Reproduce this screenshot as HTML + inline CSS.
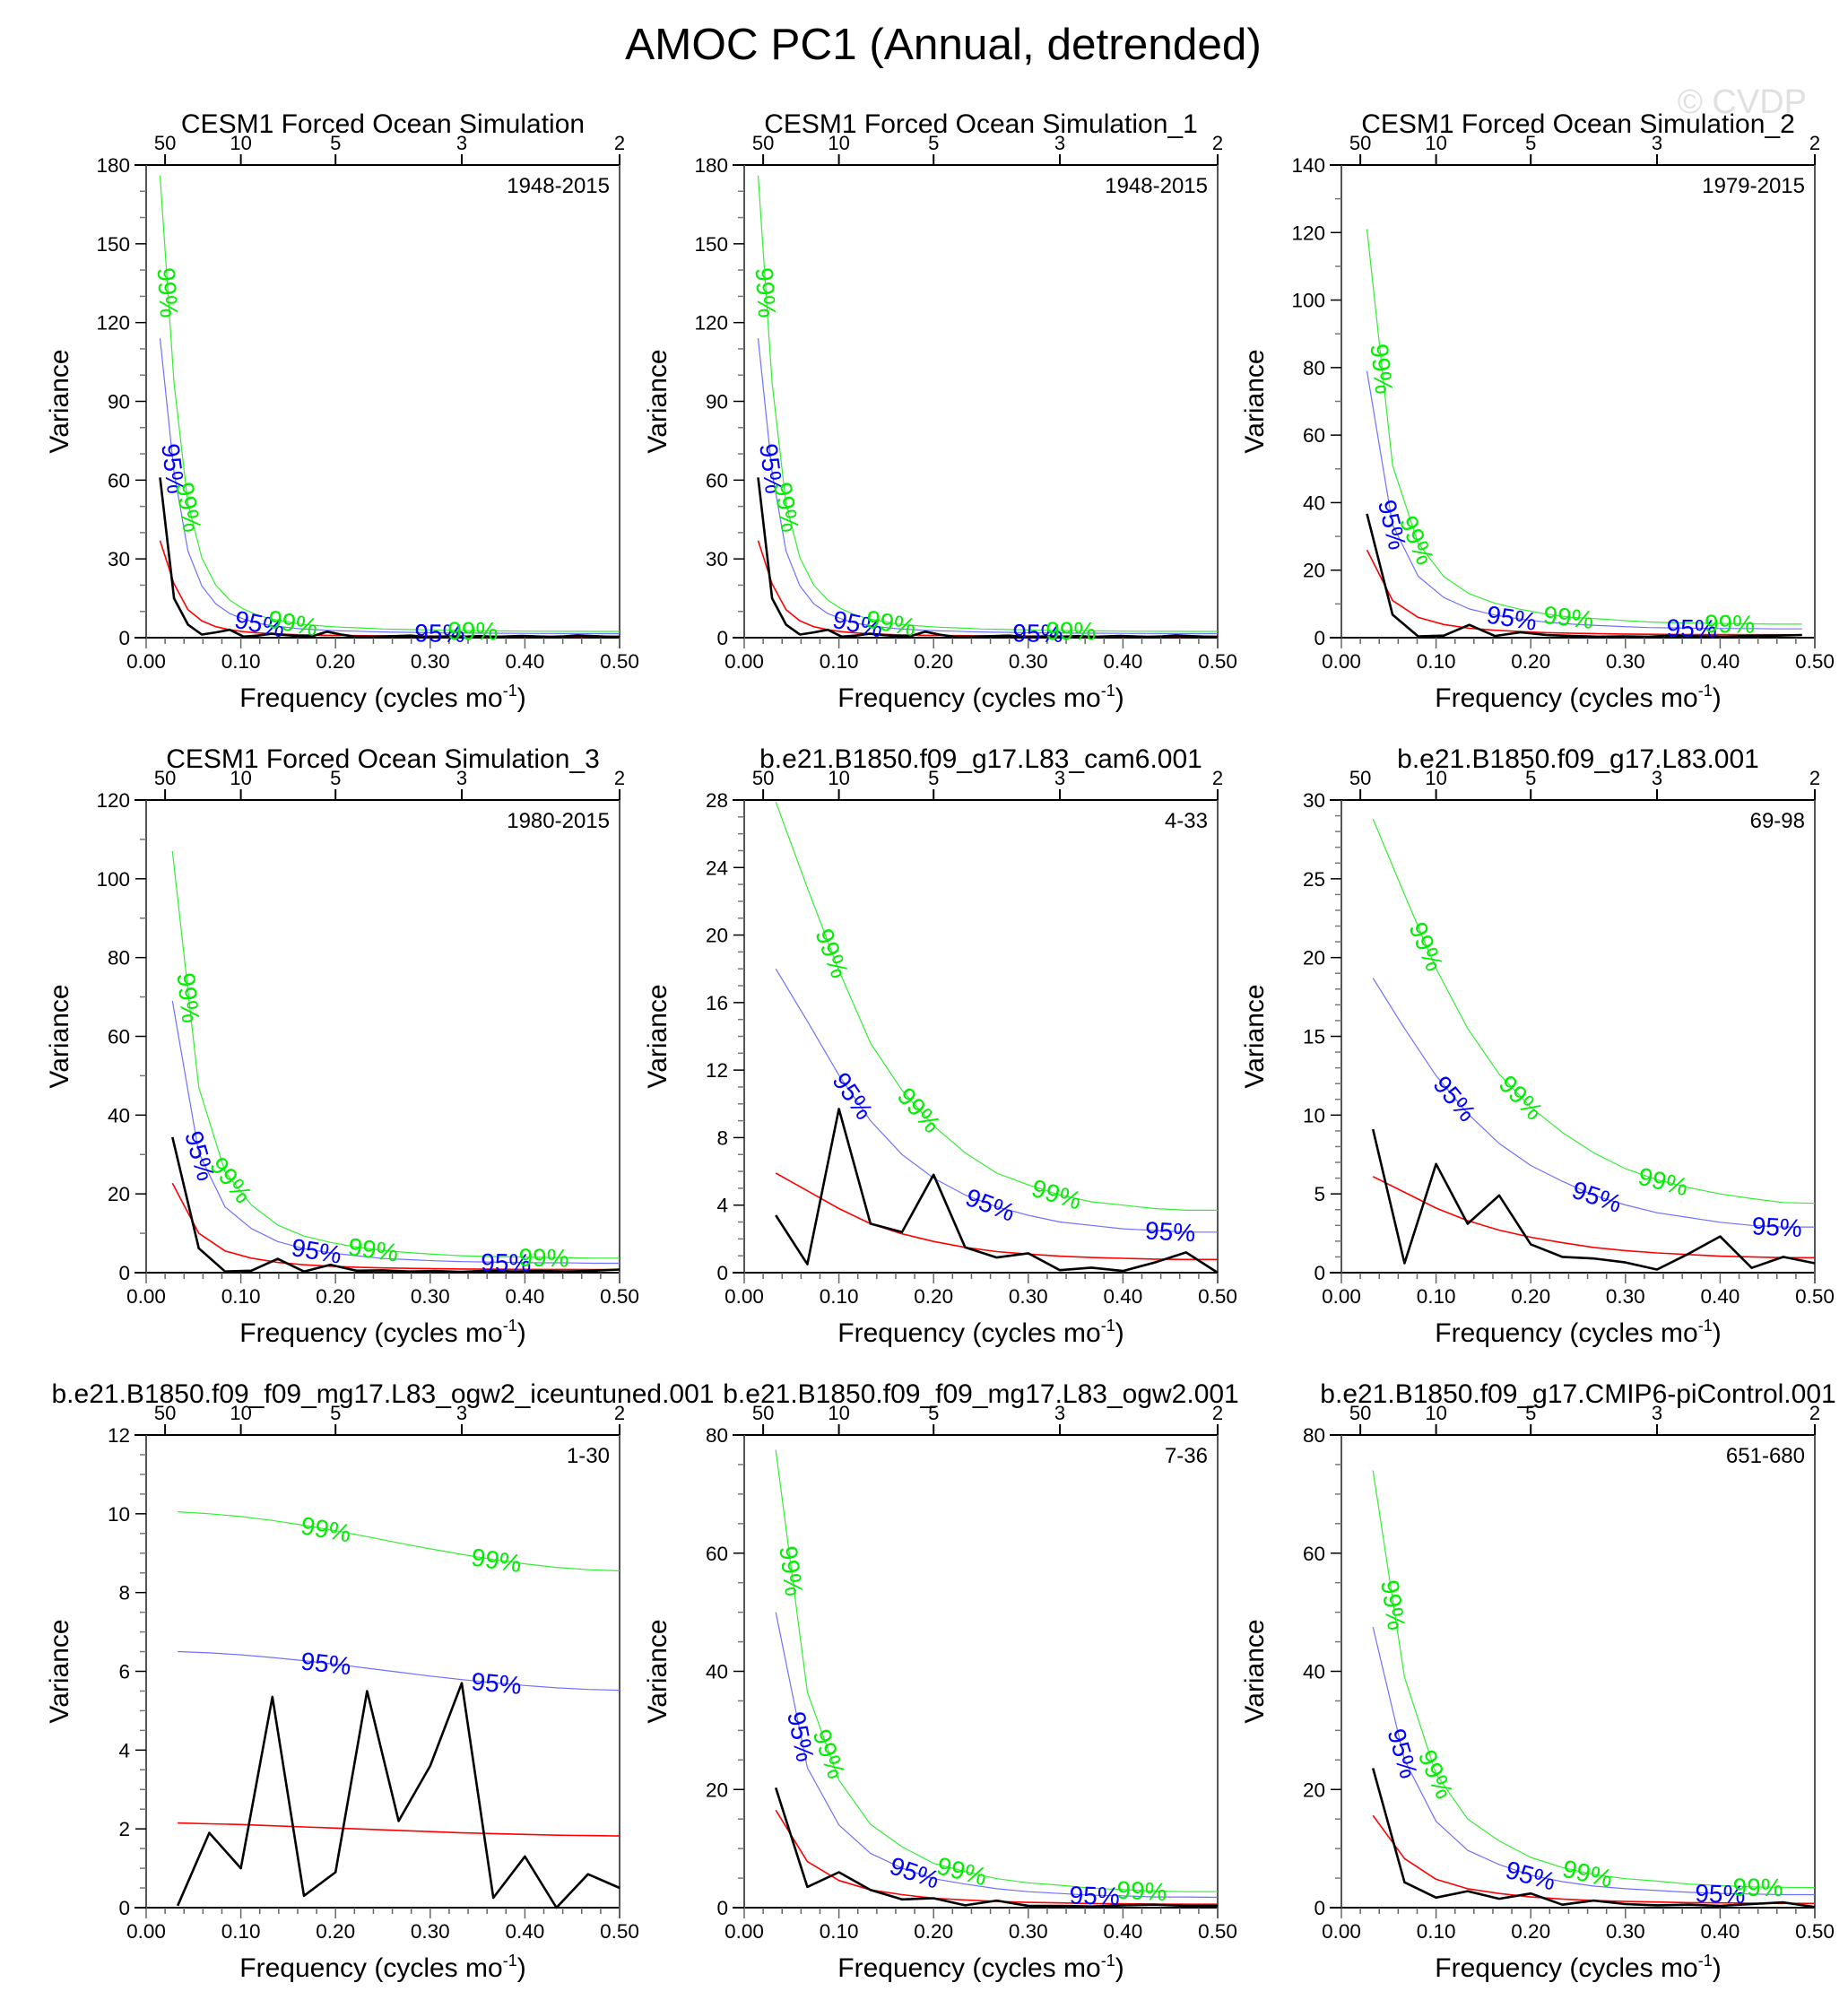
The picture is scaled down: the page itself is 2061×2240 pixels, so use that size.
<!DOCTYPE html>
<html><head><meta charset="utf-8">
<style>
html,body{margin:0;padding:0;background:#fff;}
svg{display:block;font-family:"Liberation Sans",Arial,sans-serif;}
</style></head>
<body>
<svg id="chart" width="2061" height="2240" viewBox="0 0 2061 2240" xmlns="http://www.w3.org/2000/svg">
<text x="1052" y="66" font-size="49.5" text-anchor="middle">AMOC PC1 (Annual, detrended)</text>
<text x="2015" y="126" font-size="38" text-anchor="end" fill="#e0e0e0">© CVDP</text>
</svg>
<script>
// ---------- data ----------
const periodTicks = [50, 10, 5, 3, 2];
const xTickLabels = ["0.00","0.10","0.20","0.30","0.40","0.50"];

const p1Black = [61,15,5,1.2,2,3,0.4,0.8,1.5,1,0.6,0.7,2.3,1.2,0.4,0.3,0.5,0.6,0.8,0.3,0.4,0.5,0.4,0.6,0.3,0.5,0.7,0.5,0.3,0.5,0.9,0.6,0.4,0.3];
const p1Red = [37,20.5,10.7,6.4,4.2,3.0,2.3,1.8,1.5,1.3,1.1,1.0,0.9,0.85,0.8,0.75,0.7,0.68,0.65,0.63,0.6,0.58,0.57,0.56,0.55,0.54,0.53,0.52,0.52,0.51,0.51,0.5,0.5,0.5];
const p1C95 = [114,63,33,19.7,12.9,9.2,7.1,5.5,4.6,4.0,3.4,3.1,2.8,2.6,2.5,2.3,2.2,2.1,2.0,1.9,1.85,1.8,1.75,1.72,1.7,1.66,1.63,1.6,1.6,1.57,1.57,1.54,1.54,1.54];
const p1C99 = [176,97,51,30.4,20,14.3,10.9,8.6,7.1,6.2,5.2,4.75,4.3,4.0,3.8,3.6,3.3,3.2,3.1,3.0,2.85,2.75,2.7,2.66,2.6,2.56,2.5,2.47,2.47,2.42,2.42,2.38,2.38,2.38];

const p3Black = [36.7,6.8,0.4,0.6,3.8,0.5,1.6,0.8,0.5,0.3,0.4,0.3,0.6,0.4,0.3,0.5,0.6,0.8];
const p3Red = [26,11,6.0,3.9,2.8,2.2,1.8,1.5,1.3,1.2,1.1,1.0,0.95,0.92,0.9,0.88,0.87,0.86];
const p3C95 = [79,33.4,18.2,11.9,8.5,6.7,5.5,4.6,4.0,3.6,3.3,3.0,2.9,2.8,2.7,2.7,2.6,2.6];
const p3C99 = [121,51,28,18.1,13,10.2,8.4,7.0,6.0,5.6,5.1,4.65,4.4,4.3,4.2,4.1,4.0,4.0];

const p4Black = [34.4,6.2,0.3,0.5,3.5,0.3,2.0,0.5,0.6,0.3,0.4,0.2,0.5,0.3,0.4,0.3,0.5,0.8];
const p4Red = [22.7,10,5.5,3.7,2.6,2.0,1.65,1.4,1.2,1.1,1.0,0.93,0.88,0.85,0.83,0.81,0.8,0.8];
const p4C95 = [69,30.4,16.7,11.2,7.9,6.1,5.0,4.3,3.6,3.3,3.0,2.8,2.7,2.6,2.5,2.5,2.4,2.4];
const p4C99 = [107,47,25.6,17.2,12.1,9.3,7.7,6.5,5.6,5.1,4.65,4.3,4.1,4.0,3.9,3.8,3.7,3.7];

const p5Black = [3.4,0.5,9.7,2.9,2.4,5.8,1.5,0.9,1.15,0.15,0.3,0.1,0.6,1.2,0];
const p5Red = [5.9,4.85,3.8,2.9,2.3,1.85,1.5,1.25,1.1,0.98,0.9,0.85,0.8,0.78,0.78];
const p5C95 = [18.0,14.9,11.7,9.0,7.0,5.6,4.6,3.9,3.4,3.0,2.8,2.6,2.5,2.4,2.4];
const p5C99 = [27.9,22.8,17.9,13.6,10.8,8.7,7.1,5.9,5.2,4.6,4.2,4.0,3.8,3.7,3.7];

const p6Black = [9.1,0.6,6.9,3.1,4.9,1.8,1.0,0.9,0.65,0.2,1.2,2.3,0.3,1.0,0.6];
const p6Red = [6.1,5.1,4.1,3.3,2.7,2.25,1.9,1.6,1.4,1.25,1.15,1.05,1.0,0.95,0.95];
const p6C95 = [18.7,15.5,12.5,10.1,8.2,6.8,5.8,4.9,4.3,3.8,3.5,3.2,3.0,2.9,2.9];
const p6C99 = [28.8,24,19.3,15.5,12.6,10.5,8.9,7.6,6.6,5.9,5.4,5.0,4.7,4.45,4.4];

const p7Black = [0.05,1.9,1.0,5.35,0.3,0.9,5.5,2.2,3.6,5.7,0.25,1.3,0,0.85,0.5];
const p7Red = [2.15,2.13,2.11,2.08,2.05,2.02,1.99,1.96,1.93,1.9,1.88,1.86,1.84,1.83,1.82];
const p7C95 = [6.5,6.47,6.42,6.35,6.27,6.18,6.08,5.98,5.88,5.79,5.71,5.64,5.58,5.54,5.52];
const p7C99 = [10.05,10.0,9.93,9.83,9.71,9.57,9.42,9.26,9.11,8.97,8.84,8.73,8.64,8.58,8.55];

const p8Black = [20.3,3.5,6.0,3.0,1.4,1.6,0.4,1.2,0.3,0.3,0.2,0.4,0.5,0.3,0.3];
const p8Red = [16.5,7.8,4.6,3.0,2.2,1.6,1.3,1.05,0.9,0.8,0.7,0.65,0.6,0.58,0.57];
const p8C95 = [50,23.7,14,9.2,6.7,4.9,4.0,3.2,2.7,2.4,2.1,2.0,1.8,1.8,1.75];
const p8C99 = [77.5,36.5,21.6,14.1,10.3,7.5,6.1,4.9,4.2,3.8,3.3,3.05,2.8,2.7,2.7];

const p9Black = [23.6,4.3,1.7,2.8,1.5,2.4,0.5,1.2,0.6,0.4,0.5,0.3,0.6,0.9,0.1];
const p9Red = [15.6,8.3,4.8,3.2,2.4,1.8,1.45,1.2,1.05,0.95,0.85,0.8,0.75,0.73,0.72];
const p9C95 = [47.5,25,14.6,9.7,7.3,5.5,4.4,3.65,3.2,2.9,2.6,2.4,2.3,2.2,2.2];
const p9C99 = [74,39,22.6,15,11.3,8.5,6.8,5.6,4.9,4.5,4.0,3.75,3.5,3.45,3.4];

const panelTitles = ["CESM1 Forced Ocean Simulation","CESM1 Forced Ocean Simulation_1","CESM1 Forced Ocean Simulation_2","CESM1 Forced Ocean Simulation_3","b.e21.B1850.f09_g17.L83_cam6.001","b.e21.B1850.f09_g17.L83.001","b.e21.B1850.f09_f09_mg17.L83_ogw2_iceuntuned.001","b.e21.B1850.f09_f09_mg17.L83_ogw2.001","b.e21.B1850.f09_g17.CMIP6-piControl.001"];
const panelRanges = ["1948-2015","1948-2015","1979-2015","1980-2015","4-33","69-98","1-30","7-36","651-680"];
const panelYears = [68,68,37,36,30,30,30,30,30];
const panelYMax = [180,180,140,120,28,30,12,80,80];
const panelYStep = [30,30,20,20,4,5,2,20,20];
const panelYMinor = [10,10,10,10,1,1,0.5,5,5];
const label95 = [[0.029,0.12,0.31],[0.029,0.12,0.31],[0.054,0.18,0.37],[0.057,0.18,0.38],[0.115,0.26,0.45],[0.12,0.27,0.46],[0.19,0.37],[0.06,0.18,0.37],[0.065,0.2,0.4]];
const label99 = [[0.023,0.045,0.155,0.345],[0.023,0.045,0.155,0.345],[0.043,0.08,0.24,0.41],[0.045,0.09,0.24,0.42],[0.093,0.185,0.33],[0.09,0.19,0.34],[0.19,0.37],[0.05,0.09,0.23,0.42],[0.055,0.1,0.26,0.44]];
const panelBlack = [p1Black,p1Black,p3Black,p4Black,p5Black,p6Black,p7Black,p8Black,p9Black];
const panelRed = [p1Red,p1Red,p3Red,p4Red,p5Red,p6Red,p7Red,p8Red,p9Red];
const panelC95 = [p1C95,p1C95,p3C95,p4C95,p5C95,p6C95,p7C95,p8C95,p9C95];
const panelC99 = [p1C99,p1C99,p3C99,p4C99,p5C99,p6C99,p7C99,p8C99,p9C99];

// ---------- layout ----------
const colX = [163, 830, 1496];
const rowY = [184, 892, 1600];
const W = 528, H = 527;
const NS = "http://www.w3.org/2000/svg";
const svg = document.getElementById('chart');

function mk(tag, attrs, parent) {
  const e = document.createElementNS(NS, tag);
  for (const k in attrs) e.setAttribute(k, attrs[k]);
  parent.appendChild(e);
  return e;
}

for (let p = 0; p < 9; p++) {
  const x0 = colX[p % 3], y0 = rowY[Math.floor(p / 3)];
  const ymax = panelYMax[p];
  const sx = f => x0 + f / 0.5 * W;
  const sy = v => y0 + H - v / ymax * H;
  const freqs = panelBlack[p].map((_, i) => (i + 1) / panelYears[p]);

  const g = mk('g', {}, svg);
  
  

  const t = mk('text', {x: x0 + W / 2, y: y0 - 36, 'font-size': 30, 'text-anchor': 'middle'}, g);
  
  
  t.textContent = panelTitles[p];

  const rt = mk('text', {x: x0 + W - 11, y: y0 + 31, 'font-size': 24, 'text-anchor': 'end'}, g);
  
  
  rt.textContent = panelRanges[p];

  const ax = mk('g', {stroke: '#000', 'stroke-width': 2, fill: 'none'}, g);
  
  
  mk('line', {x1: x0 - 13, y1: y0, x2: x0 + W, y2: y0}, ax);
  mk('line', {x1: x0 - 13, y1: y0 + H, x2: x0 + W, y2: y0 + H}, ax);
  mk('line', {x1: x0, y1: y0, x2: x0, y2: y0 + H, stroke: '#555'}, ax);
  mk('line', {x1: x0 + W, y1: y0, x2: x0 + W, y2: y0 + H + 12, stroke: '#555'}, ax);

  periodTicks.forEach(per => {
    const xx = sx(1 / per);
    mk('line', {x1: xx, y1: y0, x2: xx, y2: y0 - 12}, ax);
    const tl = mk('text', {x: xx, y: y0 - 17, 'font-size': 22, 'text-anchor': 'middle', fill: '#000', stroke: 'none'}, g);
    
    
    tl.textContent = per;
  });

  for (let i = 0; i <= 25; i++) {
    const xx = sx(i * 0.02);
    const major = i % 5 === 0;
    mk('line', {x1: xx, y1: y0 + H, x2: xx, y2: y0 + H + (major ? 12 : 7), stroke: '#666', 'stroke-width': 1.5}, ax);
  }
  xTickLabels.forEach((lab, i) => {
    const tl = mk('text', {x: sx(i * 0.1), y: y0 + H + 34, 'font-size': 22.5, 'text-anchor': 'middle'}, g);
    
    
    tl.textContent = lab;
  });
  const xt = mk('text', {x: x0 + W / 2, y: y0 + H + 77, 'font-size': 30, 'text-anchor': 'middle'}, g);
  
  
  xt.innerHTML = 'Frequency (cycles mo<tspan dy="-12" font-size="18">-1</tspan><tspan dy="12">)</tspan>';

  const nMinor = Math.round(ymax / panelYMinor[p]);
  for (let i = 0; i <= nMinor; i++) {
    const v = i * panelYMinor[p];
    const major = Math.abs(v / panelYStep[p] - Math.round(v / panelYStep[p])) < 1e-6;
    mk('line', {x1: x0, y1: sy(v), x2: x0 - (major ? 12 : 7), y2: sy(v), stroke: major ? '#000' : '#777', 'stroke-width': 1.5}, ax);
  }
  for (let v = 0; v <= ymax + 1e-6; v += panelYStep[p]) {
    const tl = mk('text', {x: x0 - 18, y: sy(v) + 8, 'font-size': 22.5, 'text-anchor': 'end'}, g);
    
    
    tl.textContent = Math.round(v);
  }
  const yt = mk('text', {x: 0, y: 0, 'font-size': 30, 'text-anchor': 'middle', transform: `translate(${x0 - 87},${y0 + H / 2}) rotate(-90)`}, g);
  
  
  yt.textContent = 'Variance';

  function line(vals, color, width, name) {
    const pts = vals.map((v, i) => sx(freqs[i]).toFixed(1) + ',' + sy(v).toFixed(1)).join(' ');
    const pl = mk('polyline', {points: pts, fill: 'none', stroke: color, 'stroke-width': width, 'stroke-linejoin': 'round'}, g);
    
    
  }
  line(panelC99[p], '#33ee33', 1.2, 'conf-99-line');
  line(panelC95[p], '#7070ff', 1.2, 'conf-95-line');
  line(panelRed[p], '#ff0000', 1.6, 'red-noise-line');
  line(panelBlack[p], '#000000', 2.6, 'spectrum-line');

  function interp(vals, f) {
    if (f <= freqs[0]) return vals[0];
    for (let i = 1; i < freqs.length; i++) {
      if (f <= freqs[i]) {
        const a = (f - freqs[i - 1]) / (freqs[i] - freqs[i - 1]);
        return vals[i - 1] + a * (vals[i] - vals[i - 1]);
      }
    }
    return vals[vals.length - 1];
  }
  function labels(vals, fs, txt, color, name) {
    fs.forEach(f => {
      const xx = sx(f), yy = sy(interp(vals, f));
      const d = 0.006;
      const y1 = sy(interp(vals, f - d)), y2 = sy(interp(vals, f + d));
      const ang = Math.atan2(y2 - y1, sx(f + d) - sx(f - d)) * 180 / Math.PI;
      const lt = mk('text', {x: 0, y: 10, 'font-size': 28, 'text-anchor': 'middle', fill: color, transform: `translate(${xx.toFixed(1)},${yy.toFixed(1)}) rotate(${ang.toFixed(1)})`}, g);
      
      
      lt.textContent = txt;
    });
  }
  labels(panelC95[p], label95[p], '95%', '#0000ff', 'conf-95-label');
  labels(panelC99[p], label99[p], '99%', '#00ee00', 'conf-99-label');
}
</script>
</body></html>
